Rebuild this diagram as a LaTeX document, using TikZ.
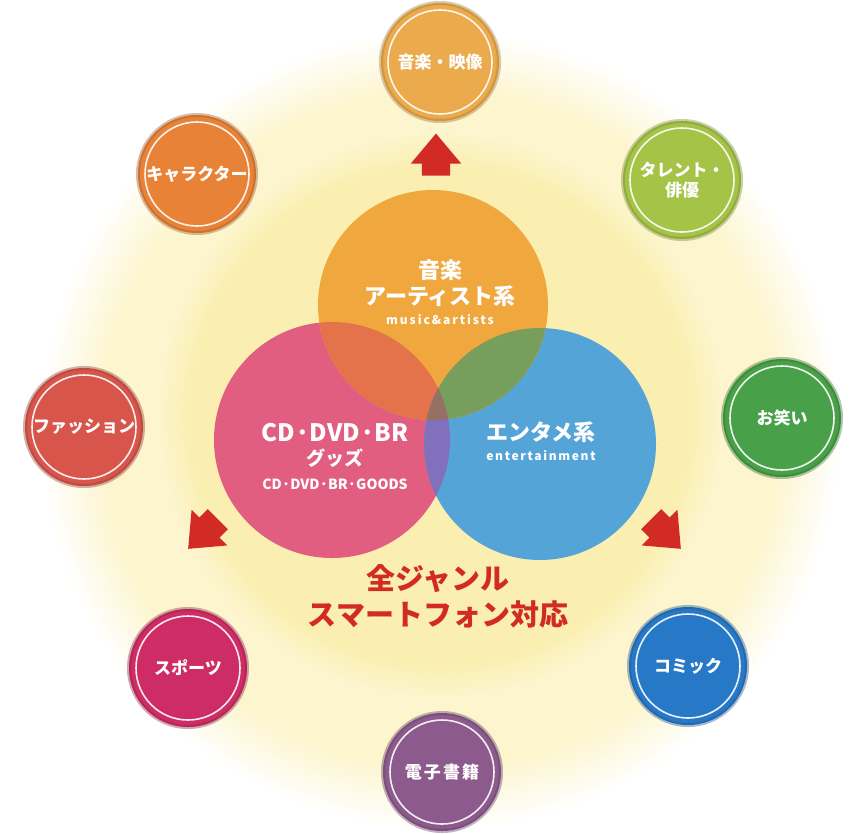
\documentclass[tikz,border=0pt]{standalone}
\usepackage{fontspec}
\newfontfamily\jpfont{Noto Sans CJK JP}
\usetikzlibrary{shapes.arrows}

\definecolor{halo}{RGB}{252,245,205}
\definecolor{core}{RGB}{250,239,176}
\definecolor{vorange}{RGB}{240,168,62}
\definecolor{vpink}{RGB}{226,94,128}
\definecolor{vblue}{RGB}{84,164,216}
\definecolor{ovlop}{RGB}{228,114,74}
\definecolor{ovlob}{RGB}{120,158,94}
\definecolor{ovlpb}{RGB}{130,112,188}
\definecolor{ovlall}{RGB}{150,112,96}
\definecolor{redmark}{RGB}{210,42,36}
\definecolor{cmusic}{RGB}{235,170,75}
\definecolor{cchara}{RGB}{232,130,55}
\definecolor{ctalent}{RGB}{165,195,70}
\definecolor{cfashion}{RGB}{215,85,75}
\definecolor{cowarai}{RGB}{72,160,72}
\definecolor{csports}{RGB}{205,45,100}
\definecolor{ccomic}{RGB}{40,120,200}
\definecolor{cebook}{RGB}{140,90,140}

\pgfdeclareradialshading{haloshade}{\pgfpoint{0bp}{0bp}}{color(0bp)=(halo); color(21bp)=(halo); color(25bp)=(white); color(50bp)=(white)}
\pgfdeclareradialshading{coreshade}{\pgfpoint{0bp}{0bp}}{color(0bp)=(core); color(22bp)=(core); color(25bp)=(halo); color(50bp)=(halo)}

\begin{document}
\begin{tikzpicture}[x=1pt,y=-1pt,
    genre/.style={circle, minimum size=118pt, inner sep=0pt, fill=#1,
      draw=#1!70!black, draw opacity=0.4, line width=4pt, text=white,
      align=center, font=\jpfont\bfseries\fontsize{17}{20}\selectfont},
    ring/.style={white, line width=1.6pt, opacity=0.9},
    venn/.style={circle, inner sep=0pt, fill=#1},
    title/.style={text=white, align=center, font=\jpfont\bfseries\fontsize{#1}{#1}\selectfont},
    sub/.style={text=white, font=\jpfont\bfseries\fontsize{#1}{#1}\selectfont},
    redarrow/.style={single arrow, fill=redmark, inner xsep=0pt, inner ysep=14pt,
      single arrow head extend=11pt, single arrow tip angle=80,
      minimum height=42pt, rotate=#1}]
  \useasboundingbox (0,0) rectangle (861,833);

  % background glow
  \shade[shading=haloshade] (440,430) circle (400);
  \shade[shading=coreshade] (440,415) circle (282);

  % three circles
  \node[venn=vpink, minimum size=236pt] (goods) at (332,440) {};
  \node[venn=vblue, minimum size=232pt] (enta) at (540,444) {};
  \node[venn=vorange, minimum size=230pt] (artists) at (433,305) {};

  \begin{scope}
    \clip (artists.center) circle (115);
    \fill[ovlop] (goods.center) circle (118);
    \fill[ovlob] (enta.center) circle (116);
  \end{scope}
  \begin{scope}
    \clip (goods.center) circle (118);
    \fill[ovlpb] (enta.center) circle (116);
    \clip (enta.center) circle (116);
    \fill[ovlall] (artists.center) circle (115);
  \end{scope}

  \node[title=22, text depth=0pt] (artiststxt) at (440,282) {音楽\\[4pt]アーティスト系};
  \node[sub=12] (artistsen) at (440,320) {\addfontfeature{LetterSpace=16}music\&artists};

  \node[title=24] (goodstxt) at (335,433) {CD·DVD·BR};
  \node[title=19] (goodsjp) at (335,458) {グッズ};
  \node[sub=14] (goodsen) at (335,484) {CD·DVD·BR·GOODS};

  \node[title=22] (entatxt) at (541,432) {エンタメ系};
  \node[sub=12] (entaen) at (541,456) {\addfontfeature{LetterSpace=14}entertainment};

  \node[align=center, text=redmark, font=\jpfont\bfseries\fontsize{29}{36}\selectfont]
    (allgenre) at (438,596) {全ジャンル\\スマートフォン対応};

  % arrows
  \node[redarrow=90] (upmark) at (436,163) {};
  \node[redarrow=225] (leftmark) at (209,528) {};
  \node[redarrow=-45] (rightmark) at (660,528) {};

  % genres
  \node[genre=cmusic] (music) at (440,62) {音楽・映像};
  \node[genre=cchara] (chara) at (197,174) {キャラクター};
  \node[genre=ctalent] (talent) at (682,180) {タレント・\\俳優};
  \node[genre=cfashion] (fashion) at (84,427) {ファッション};
  \node[genre=cowarai] (owarai) at (782,418) {お笑い};
  \node[genre=csports] (sports) at (188,668) {スポーツ};
  \node[genre=ccomic] (comic) at (688,666) {コミック};
  \node[genre=cebook] (ebook) at (442,772) {\addfontfeature{LetterSpace=12}電子書籍};

  \foreach \n in {music,chara,talent,fashion,owarai,sports,comic,ebook}
    \draw[ring] (\n.center) circle (52);
\end{tikzpicture}
\end{document}
